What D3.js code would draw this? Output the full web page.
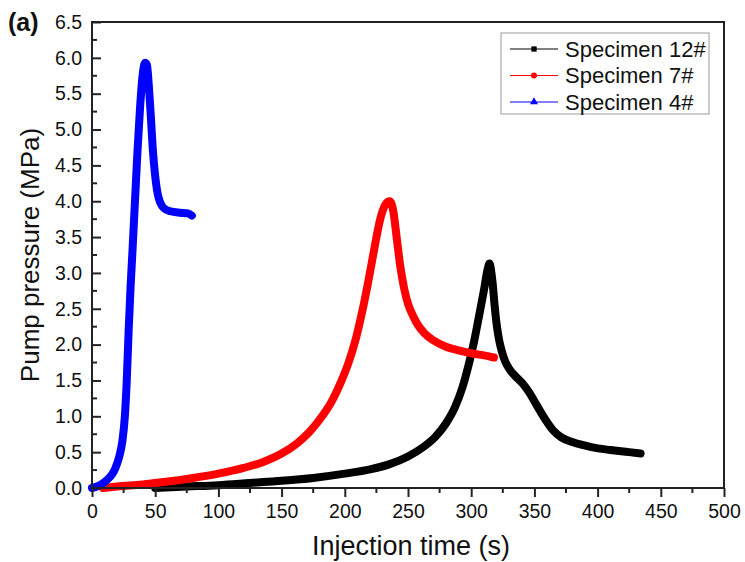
<!DOCTYPE html>
<html lang="en">
<head>
  <meta charset="utf-8">
  <style>
    body {
      margin: 0;
      padding: 0;
      background: #fff;
      font-family: Arial, "Liberation Sans", Helvetica, sans-serif;
    }
  </style>
</head>
<body>
  <svg width="745" height="562"></svg>
  <script src="https://d3js.org/d3.v7.min.js"></script>
  <script>
    // [time (s), pressure (MPa)]
    var specimen12 = [[50,0],[75,0.02],[100,0.04],[125,0.07],[150,0.1],[175,0.14],[200,0.2],[220,0.26],[235,0.33],[250,0.44],[262,0.57],[272,0.72],[280,0.9],[287,1.12],[293,1.4],[298,1.72],[302,2.02],[306,2.38],[310,2.75],[313,3.05],[314.5,3.13],[316,3.0],[317,2.85],[318.5,2.55],[320,2.3],[322,2.07],[324,1.92],[327,1.76],[331,1.64],[336,1.54],[341,1.45],[346,1.33],[350,1.21],[355,1.06],[360,0.92],[365,0.8],[371,0.71],[380,0.64],[395,0.57],[410,0.53],[425,0.5],[434,0.48]];
    var specimen7 = [[9,0],[20,0.02],[40,0.05],[60,0.09],[80,0.14],[100,0.2],[120,0.28],[135,0.36],[150,0.48],[162,0.62],[172,0.78],[182,1.0],[190,1.22],[197,1.48],[203,1.75],[209,2.1],[214,2.48],[219,2.92],[224,3.4],[228,3.75],[232,3.95],[235.5,4.0],[238.5,3.85],[241,3.5],[244,3.08],[247,2.78],[250,2.57],[254,2.4],[258,2.27],[263,2.16],[270,2.06],[280,1.97],[290,1.92],[300,1.88],[310,1.85],[318,1.82]];
    var specimen4 = [[0,0],[4,0.02],[9,0.07],[14,0.15],[17,0.22],[20,0.35],[22,0.47],[24,0.65],[26,1.0],[27.5,1.5],[29,2.2],[30.5,2.8],[32,3.3],[34,4.0],[36,4.7],[38,5.3],[40,5.75],[42,5.93],[43.5,5.9],[45,5.6],[46.5,5.2],[48,4.75],[50,4.35],[52,4.1],[54,3.98],[57,3.9],[62,3.86],[70,3.84],[76,3.83],[79,3.8]];

    var seriesNames = ["Specimen 12#", "Specimen 7#", "Specimen 4#"];
    var seriesColors = ["#000000", "#ff0000", "#0000ff"];
    var seriesData = [specimen12, specimen7, specimen4];

    var xTicks = [0, 50, 100, 150, 200, 250, 300, 350, 400, 450, 500];
    var yTicks = [0, 0.5, 1, 1.5, 2, 2.5, 3, 3.5, 4, 4.5, 5, 5.5, 6, 6.5];

    var svg = d3.select("svg"),
      margin = { top: 22, right: 21, bottom: 74, left: 92 },
      width = +svg.attr("width") - margin.left - margin.right,
      height = +svg.attr("height") - margin.top - margin.bottom,
      g = svg.append("g").attr("transform", "translate(" + margin.left + "," + margin.top + ")");

    var x = d3.scaleLinear().domain([0, 500]).range([0, width]);
    var y = d3.scaleLinear().domain([0, 6.5]).range([height, 0]);

    // curves (drawn first so the frame sits on top)
    var line = d3.line()
      .x(function(d) { return x(d[0]); })
      .y(function(d) { return y(d[1]); })
      .curve(d3.curveMonotoneX);

    g.selectAll(".curve")
      .data(seriesData)
      .enter().append("path")
      .attr("class", "curve")
      .attr("fill", "none")
      .attr("stroke", function(d, i) { return seriesColors[i]; })
      .attr("stroke-width", 8)
      .attr("stroke-linecap", "round")
      .attr("stroke-linejoin", "round")
      .attr("d", line);

    // frame
    g.append("rect")
      .attr("width", width)
      .attr("height", height)
      .attr("fill", "none")
      .attr("stroke", "#222")
      .attr("stroke-width", 2);

    // x axis: ticks outward
    var xAxis = g.append("g")
      .attr("transform", "translate(0," + height + ")")
      .call(d3.axisBottom(x).tickValues(xTicks).tickSize(9).tickPadding(7).tickFormat(d3.format("d")));
    xAxis.append("g").selectAll("line")
      .data(d3.range(25, 500, 50))
      .enter().append("line")
      .attr("x1", function(d) { return x(d); })
      .attr("x2", function(d) { return x(d); })
      .attr("y2", 5);

    // y axis: ticks inward
    var yAxis = g.append("g")
      .call(d3.axisLeft(y).tickValues(yTicks).tickSize(-9).tickPadding(10).tickFormat(d3.format(".1f")));
    yAxis.append("g").selectAll("line")
      .data(d3.range(0.25, 6.5, 0.5))
      .enter().append("line")
      .attr("y1", function(d) { return y(d); })
      .attr("y2", function(d) { return y(d); })
      .attr("x2", 5);

    [xAxis, yAxis].forEach(function(a) {
      a.select(".domain").remove();
      a.selectAll("line").attr("stroke", "#222").attr("stroke-width", 2);
      a.selectAll("text")
        .attr("fill", "#111")
        .style("font-size", "19.5px")
        .style("font-family", "Arial, 'Liberation Sans', sans-serif");
    });

    // axis titles
    svg.append("text")
      .attr("x", margin.left + width / 2 + 3)
      .attr("y", 555)
      .attr("text-anchor", "middle")
      .style("font-size", "27px")
      .attr("fill", "#111")
      .text("Injection time (s)");

    svg.append("text")
      .attr("transform", "translate(39," + (margin.top + height / 2) + ") rotate(-90)")
      .attr("text-anchor", "middle")
      .style("font-size", "26px")
      .attr("fill", "#111")
      .text("Pump pressure (MPa)");

    svg.append("text")
      .attr("x", 8)
      .attr("y", 31)
      .style("font-size", "25px")
      .style("font-weight", "bold")
      .attr("fill", "#111")
      .text("(a)");

    // legend
    var legend = svg.append("g").attr("transform", "translate(501,33)");
    legend.append("rect")
      .attr("width", 208)
      .attr("height", 81)
      .attr("fill", "#fff")
      .attr("stroke", "#999")
      .attr("stroke-width", 1);

    var item = legend.selectAll(".item")
      .data(seriesNames)
      .enter().append("g")
      .attr("class", "item")
      .attr("transform", function(d, i) { return "translate(0," + (16 + i * 26.5) + ")"; });

    item.append("line")
      .attr("x1", 9)
      .attr("x2", 57)
      .attr("stroke", function(d, i) { return seriesColors[i]; })
      .attr("stroke-width", 1);

    item.append("path")
      .attr("transform", "translate(33,0)")
      .attr("fill", function(d, i) { return seriesColors[i]; })
      .attr("d", function(d, i) {
        var sym = [d3.symbolSquare, d3.symbolCircle, d3.symbolTriangle][i];
        return d3.symbol().type(sym).size(28)();
      });

    item.append("text")
      .attr("x", 64)
      .attr("dy", "0.35em")
      .style("font-size", "22px")
      .attr("fill", "#111")
      .text(function(d) { return d; });
  </script>
</body>
</html>
